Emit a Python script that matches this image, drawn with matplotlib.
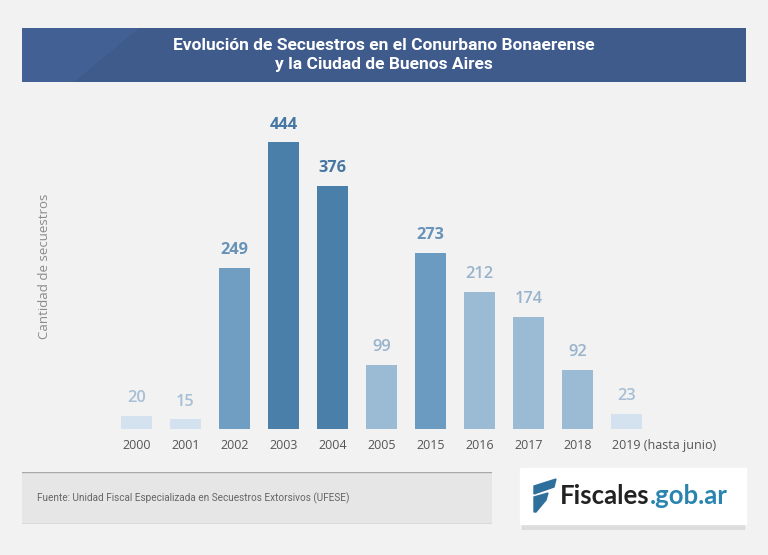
import matplotlib
matplotlib.use("Agg")
import matplotlib.pyplot as plt
import matplotlib.transforms as mtransforms
from matplotlib.patches import Rectangle, Polygon

# data
years = ["2000", "2001", "2002", "2003", "2004", "2005",
         "2015", "2016", "2017", "2018", "2019 (hasta junio)"]
secuestros = [20, 15, 249, 444, 376, 99, 273, 212, 174, 92, 23]

# colour shade per bar (by magnitude group)
bar_colors = ["#d3e2ee", "#d3e2ee", "#709ec3", "#4a7fa9", "#4a7fa9", "#9bbad4",
              "#6b9bc0", "#9bbad4", "#9bbad4", "#9bbad4", "#d3e2ee"]
label_colors = ["#a7bfd4", "#a7bfd4", "#6893b9", "#4676a2", "#4676a2", "#98b3cb",
                "#6893b9", "#98b3cb", "#98b3cb", "#98b3cb", "#a7bfd4"]
label_bold = [False, False, True, True, True, False, True, False, False, False, False]

W, H = 768, 555
BG = "#f2f2f2"
plt.rcParams["font.family"] = ["Lato", "DejaVu Sans"]

fig = plt.figure(figsize=(W / 100, H / 100), dpi=100, facecolor=BG)


def px(x0, y0, w, h):
    # pixel box (top-left origin) -> figure fraction rect
    return [x0 / W, 1 - (y0 + h) / H, w / W, h / H]


# ---- title banner
ban = fig.add_axes(px(22, 28, 724, 54))
ban.set_xlim(0, 1)
ban.set_ylim(0, 1)
ban.axis("off")
ban.add_patch(Rectangle((0, 0), 1, 1, color="#3e5b8c"))
ban.add_patch(Polygon([(0, 0), (0, 1), (0.16, 1), (0.07, 0)], color="#46649a", alpha=0.6))
ban.text(0.5, 0.5, "Evolución de Secuestros en el Conurbano Bonaerense\ny la Ciudad de Buenos Aires",
         ha="center", va="center", color="white", fontsize=12.5, fontweight="bold",
         family=["Roboto", "DejaVu Sans"], linespacing=1.3)

# ---- bar chart
ax = fig.add_axes(px(112, 110, 539, 319))
ax.set_facecolor(BG)
xs = list(range(len(years)))
ax.bar(xs, secuestros, width=0.65, color=bar_colors)
ax.set_xlim(-0.5, len(years) - 0.5)
ax.set_ylim(0, 494)
for x, v, c, b in zip(xs, secuestros, label_colors, label_bold):
    ax.annotate(str(v), (x, v), xytext=(0, 7), textcoords="offset points",
                ha="center", va="bottom", color=c, fontsize=11.8,
                fontweight="bold" if b else "semibold",
                family=["Open Sans", "DejaVu Sans"])
for s in ax.spines.values():
    s.set_visible(False)
ax.set_yticks([])
ax.set_xticks(xs)
ax.set_xticklabels(years, fontsize=9, color="#555555", family=["Open Sans", "DejaVu Sans"])
ax.tick_params(axis="x", length=0, pad=7.5)
last = ax.get_xticklabels()[-1]
last.set_ha("left")
last.set_transform(last.get_transform() + mtransforms.ScaledTranslation(-15 / 100, 0, fig.dpi_scale_trans))

fig.text(45 / W, 1 - 266 / H, "Cantidad de secuestros", rotation=90, ha="center", va="center",
         color="#8a8a8a", fontsize=9.5, family=["Open Sans", "DejaVu Sans"])

# ---- source footer
foot = fig.add_axes(px(22, 472, 470, 52))
foot.set_xlim(0, 1)
foot.set_ylim(0, 1)
foot.axis("off")
foot.add_patch(Rectangle((0, 0), 1, 1, color="#e6e6e6"))
foot.plot([0, 1], [1, 1], color="#a8a8a8", lw=1)
foot.plot([0, 1], [0, 0], color="#a8a8a8", lw=1)
foot.text(0.032, 0.5, "Fuente: Unidad Fiscal Especializada en Secuestros Extorsivos (UFESE)",
          ha="left", va="center", color="#666666", fontsize=7.2,
          family=["Roboto", "DejaVu Sans"])

# ---- logo box
logo = fig.add_axes(px(516, 466, 234, 64))
logo.set_xlim(0, 234)
logo.set_ylim(64, 0)
logo.axis("off")
logo.add_patch(Rectangle((6, 10), 222, 56, color="#d0d0d0", alpha=0.6))
logo.add_patch(Rectangle((4, 2), 226, 56, color="white"))
logo.add_patch(Polygon([(18, 20), (40, 13), (38, 21), (18, 28)], color="#2f6f9c"))
logo.add_patch(Polygon([(18, 31), (32, 27), (30, 34), (20, 46), (18, 46)], color="#2f6f9c"))
t1 = logo.text(44, 30, "Fiscales", ha="left", va="center", color="#222222",
               fontsize=18.5, fontweight="bold", family=["Lato", "DejaVu Sans"])
fig.canvas.draw()
bb = t1.get_window_extent()
inv = logo.transData.inverted()
xend = inv.transform((bb.x1, bb.y0))[0]
logo.text(xend, 30, ".gob.ar", ha="left", va="center", color="#2a84b0",
          fontsize=18.5, fontweight="bold", family=["Lato", "DejaVu Sans"])

fig.savefig("out.png", dpi=100, facecolor=BG)
